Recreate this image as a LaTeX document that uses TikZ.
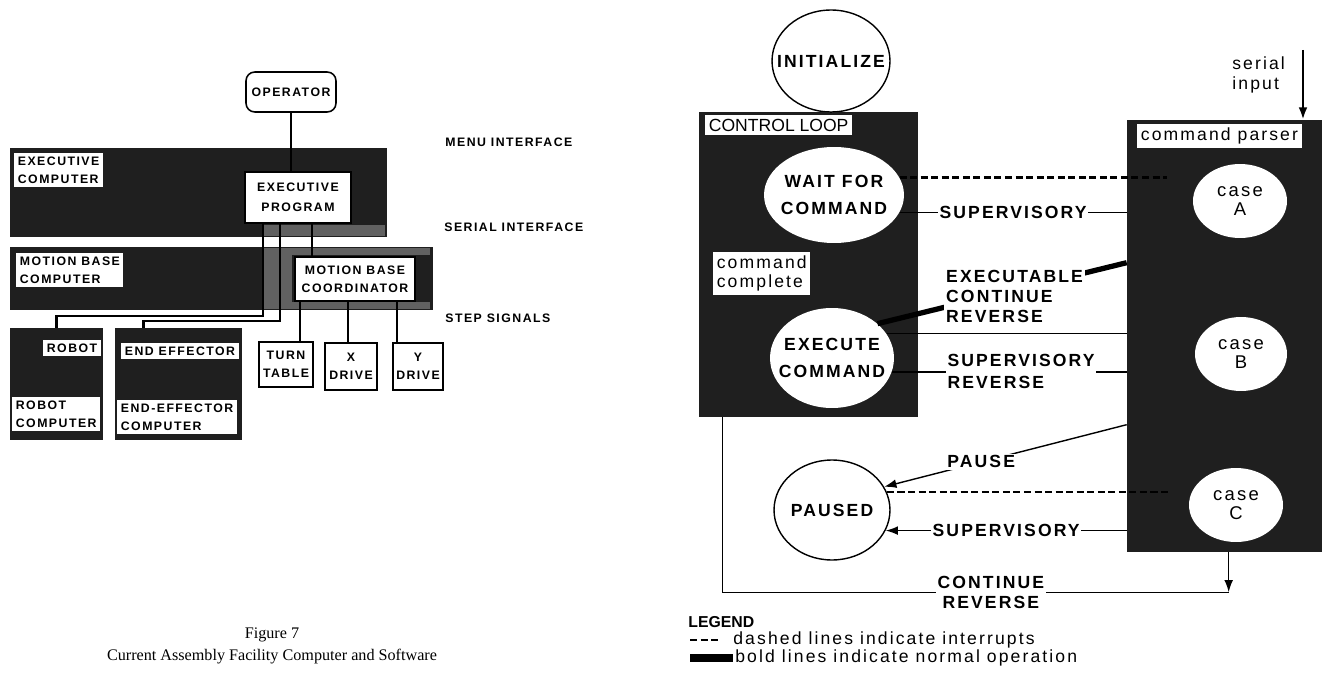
\documentclass[tikz,border=0pt]{standalone}
\usepackage{fontspec}
\setmainfont{Liberation Serif}
\newfontfamily\spaced[LetterSpace=12]{Liberation Sans}
\newfontfamily\plainsf{Liberation Sans}
\usetikzlibrary{shapes.geometric,calc,arrows.meta}

\begin{document}
\begin{tikzpicture}[x=0.02cm, y=-0.02cm, >={Latex[length=7pt,width=5pt]},
    dark/.style={rectangle, fill=black!88, inner sep=0pt},
    lbl/.style={rectangle, fill=white, anchor=north west, inner sep=2pt, align=left, font=\spaced\bfseries\fontsize{7}{10}\selectfont},
    unit/.style={rectangle, draw, line width=0.9pt, fill=white, align=center, inner sep=0pt, font=\spaced\bfseries\fontsize{7}{10.5}\selectfont},
    side/.style={anchor=west, inner sep=0pt, font=\spaced\bfseries\fontsize{7}{9}\selectfont},
    bub/.style={ellipse, fill=white, inner sep=0pt},
    bubtxt/.style={align=center, font=\spaced\bfseries\fontsize{10}{15}\selectfont},
    casetxt/.style={align=center, font=\spaced\fontsize{10.5}{10.5}\selectfont},
    tag/.style={rectangle, fill=white, anchor=north west, inner sep=2pt, align=left, font=\spaced\fontsize{10}{11}\selectfont},
    note/.style={anchor=west, inner sep=0pt, font=\spaced\fontsize{10}{12}\selectfont},
    flow/.style={fill=white, inner sep=1pt, align=left, font=\spaced\bfseries\fontsize{10}{11.3}\selectfont},
    wire/.style={line width=1.3pt},
    link/.style={line width=0.8pt},
    intr/.style={line width=0.8pt, dash pattern=on 4pt off 2pt},
    normop/.style={line width=3pt}]

    \useasboundingbox (0,0) rectangle (1322,679);

    \node[unit, rounded corners=5pt, minimum width=1.8cm, minimum height=0.8cm] (oper) at (291,92) {OPERATOR};
    \node[dark, minimum width=7.54cm, minimum height=1.78cm] (execbox) at (198.5,192.5) {};
    \fill[black!62] (262,225) rectangle (385,236);
    \node[lbl] (execlbl) at (14,153) {EXECUTIVE\\COMPUTER};
    \node[unit, minimum width=2.12cm, minimum height=1.02cm, font=\spaced\bfseries\fontsize{7}{11.3}\selectfont] (execprog) at (298,197.5) {EXECUTIVE\\PROGRAM};
    \node[dark, minimum width=8.46cm, minimum height=1.26cm] (mbbox) at (221.5,278.5) {};
    \fill[black!62] (262,248) rectangle (292,309);
    \fill[black!62] (292,248) rectangle (430,255);
    \fill[black!62] (292,302) rectangle (430,309);
    \node[lbl] (mblbl) at (16,253) {MOTION BASE\\COMPUTER};
    \node[unit, minimum width=2.4cm, minimum height=0.88cm] (coord) at (355,279) {MOTION BASE\\COORDINATOR};
    \node[dark, minimum width=1.86cm, minimum height=2.24cm] (robotbox) at (56.5,384) {};
    \node[lbl] (robotlbl) at (43,340) {ROBOT};
    \node[lbl] (robotcomp) at (12,397) {ROBOT\\COMPUTER};
    \node[dark, minimum width=2.54cm, minimum height=2.24cm] (eebox) at (178.5,384) {};
    \node[lbl] (eelbl) at (121,343) {END EFFECTOR};
    \node[lbl] (eecomp) at (117,400) {END-EFFECTOR\\COMPUTER};
    \node[unit, minimum width=1.08cm, minimum height=0.9cm] (turn) at (286,364.5) {TURN\\TABLE};
    \node[unit, minimum width=1.04cm, minimum height=0.94cm] (xdrive) at (351,366.5) {X\\DRIVE};
    \node[unit, minimum width=1.0cm, minimum height=0.94cm] (ydrive) at (418,366.5) {Y\\DRIVE};
    \node[side] (menu) at (445,142) {MENU INTERFACE};
    \node[side] (serial) at (444,227) {SERIAL INTERFACE};
    \node[side] (steps) at (445,318) {STEP SIGNALS};

    \draw[wire] (oper) -- (oper |- execprog.north);
    \draw[wire] ($(execprog.south)+(-35,0)$) -- ++(0,92) -| (robotbox.north);
    \draw[wire] ($(execprog.south)+(-18,0)$) -- ++(0,97) -| ($(eebox.north)+(-35,0)$);
    \draw[wire] ($(execprog.south)+(14,0)$) -- ($(coord.north)+(-43,0)$);
    \draw[wire] ($(coord.south)+(-55,0)$) -- ($(turn.north)+(14,0)$);
    \draw[wire] ($(coord.south)+(-7,0)$) -- ($(xdrive.north)+(-3,0)$);
    \draw[wire] ($(coord.south)+(42,0)$) -- ($(ydrive.north)+(-21,0)$);

    \node[font=\fontsize{9.2}{12.5}\selectfont, align=center] (caption) at (272,646) {Figure 7\\Current Assembly Facility Computer and Software};

    \node[bub, draw, line width=0.8pt, minimum width=2.36cm, minimum height=2.04cm, label={[bubtxt]center:INITIALIZE}] (init) at (831,61) {};
    \node[dark, minimum width=4.38cm, minimum height=6.1cm] (loop) at (808.5,264.5) {};
    \node[tag, font=\plainsf\fontsize{10}{11}\selectfont] (looplbl) at (705,115) {CONTROL LOOP};
    \node[bub, minimum width=2.8cm, minimum height=1.92cm, label={[bubtxt]center:{WAIT FOR\\COMMAND}}] (wait) at (834,195) {};
    \node[tag] (donelbl) at (713,252) {command\\complete};
    \node[bub, minimum width=2.48cm, minimum height=2.0cm, label={[bubtxt]center:{EXECUTE\\COMMAND}}] (exec) at (832,358) {};
    \node[dark, minimum width=3.9cm, minimum height=8.64cm] (parser) at (1224.5,336) {};
    \node[tag] (parserlbl) at (1137,124) {command parser};
    \node[bub, minimum width=1.88cm, minimum height=1.48cm, label={[casetxt]center:{case\\A}}] (caseA) at (1240,201) {};
    \node[bub, minimum width=1.84cm, minimum height=1.48cm, label={[casetxt]center:{case\\B}}] (caseB) at (1241,354) {};
    \node[bub, minimum width=1.88cm, minimum height=1.48cm, label={[casetxt]center:{case\\C}}] (caseC) at (1236,505) {};
    \node[bub, draw, line width=0.8pt, minimum width=2.32cm, minimum height=2.0cm, label={[bubtxt]center:PAUSED}] (paused) at (832,510) {};
    \node[anchor=west, align=left, inner sep=0pt, font=\spaced\fontsize{10}{11.3}\selectfont] (sertxt) at (1232,75) {serial\\input};
    \coordinate (serin) at (1303,50);
    \coordinate (intA) at ($(caseA.west)+(-26,0)$);
    \coordinate (intC) at ($(caseC.west)+(-21,0)$);
    \coordinate (back) at ($(parser.south west)+(102,40)$);
    \coordinate (loopout) at ($(loop.south west)+(24,0)$);

    \draw[link] (init.south) -- (init.south |- loop.north);
    \draw[wire, ->] (serin) -- (serin |- parser.north);
    \draw[intr, line width=1.6pt] (wait.15) -- (wait.15 -| intA);
    \draw[link] (wait.-15) -- node[flow]{SUPERVISORY} (wait.-15 -| parser.west);
    \draw[normop] ($(parser.north west)+(0,143)$) -- node[flow, pos=0.45, yshift=-3.7pt]{EXECUTABLE\\CONTINUE\\REVERSE} (exec.37);
    \draw[link] (exec.24) -- (exec.24 -| parser.west);
    \draw[link] (exec.-13) -- node[flow, pos=0.55, font=\spaced\bfseries\fontsize{10}{12.5}\selectfont]{SUPERVISORY\\REVERSE} (exec.-13 -| parser.west);
    \draw[link, <-] (paused.24) -- node[flow, pos=0.4]{PAUSE} ($(parser.north west)+(0,305)$);
    \draw[intr] (paused.18) -- (paused.18 -| intC);
    \draw[link, <-] (paused.-21) -- node[flow]{SUPERVISORY} (paused.-21 -| parser.west);
    \draw[link, ->] (back |- parser.south) -- (back);
    \draw[link] (back) -- node[flow, align=center, pos=0.47]{CONTINUE\\REVERSE} (back -| loopout) -- (loopout);

    \node[anchor=west, inner sep=0pt, font=\plainsf\bfseries\fontsize{9}{10}\selectfont] (legend) at (688,622) {LEGEND};
    \node[note] (dashnote) at (733,640) {dashed lines indicate interrupts};
    \node[note] (boldnote) at (735,658) {bold lines indicate normal operation};
    \draw[intr] ($(dashnote.west)+(-43,0)$) -- ++(30,0);
    \draw[normop, line width=4pt] ($(boldnote.west)+(-45,0)$) -- ++(43,0);
\end{tikzpicture}
\end{document}
